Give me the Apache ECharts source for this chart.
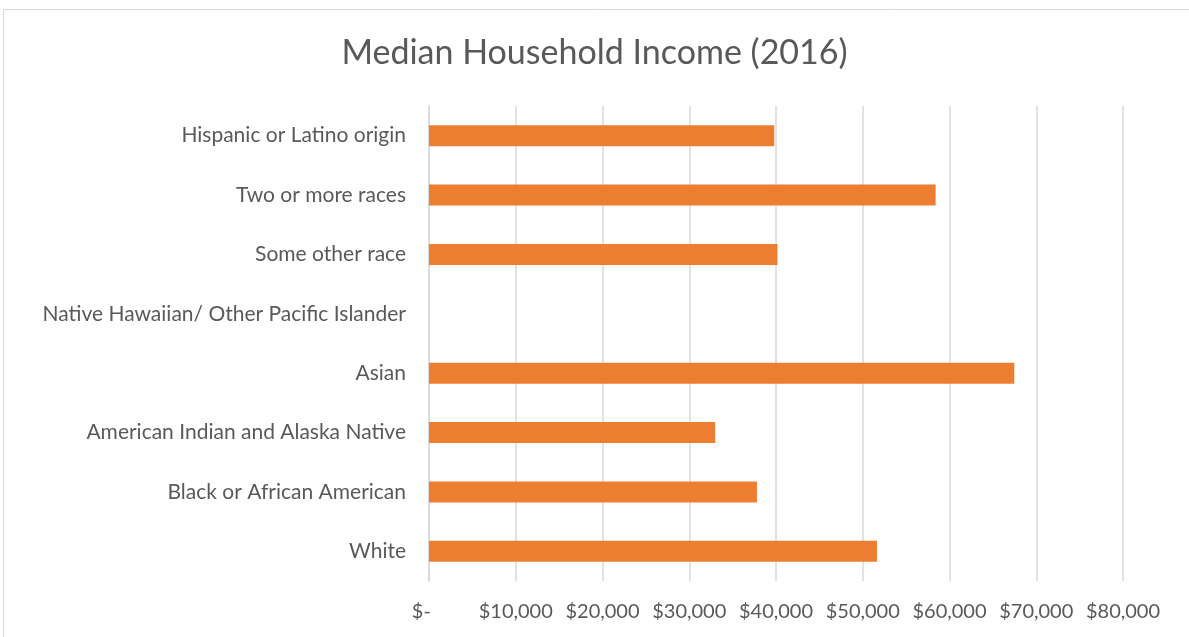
<!DOCTYPE html>
<html>
<head>
<meta charset="utf-8">
<script src="https://cdn.jsdelivr.net/npm/echarts@6/dist/echarts.min.js"></script>
<style>
  html, body { margin: 0; padding: 0; background: #fff; }
  #chart { width: 1189px; height: 637px; }
</style>
</head>
<body>
<div id="chart"></div>
<script>
// categories bottom -> top (as drawn)
const categories = [
  'White',
  'Black or African American',
  'American Indian and Alaska Native',
  'Asian',
  'Native Hawaiian/ Other Pacific Islander',
  'Some other race',
  'Two or more races',
  'Hispanic or Latino origin'
]
// median household income, 2016
const incomes = [51640, 37800, 32990, 67470, null, 40170, 58400, 39800]

const fontFamily = 'Lato, "Open Sans", sans-serif'
const textColor = '#595959'

const chart = echarts.init(document.getElementById('chart'))

// accounting style: zero shows as "$-"
const money = (v) => v === 0 ? '$-   ' : '$' + v.toLocaleString('en-US')

chart.setOption({
  animation: false,
  title: {
    text: 'Median Household Income (2016)',
    left: 'center',
    top: 31,
    textStyle: { fontFamily, fontSize: 34, fontWeight: 'normal', color: textColor }
  },
  graphic: [{
    type: 'rect',
    shape: { x: 3.5, y: 9.5, width: 1200, height: 640 },
    style: { fill: 'none', stroke: '#d9d9d9', lineWidth: 1 },
    silent: true
  }],
  grid: { left: 429, right: 66, top: 106, bottom: 56 },
  xAxis: {
    type: 'value',
    min: 0,
    max: 80000,
    interval: 10000,
    axisLine: { show: false },
    axisTick: { show: false },
    splitLine: { lineStyle: { color: '#d9d9d9', width: 1.5 } },
    axisLabel: {
      formatter: money,
      margin: 21,
      fontFamily,
      fontSize: 20,
      color: textColor
    }
  },
  yAxis: {
    type: 'category',
    data: categories,
    axisLine: { lineStyle: { color: '#d9d9d9', width: 1.5 } },
    axisTick: { show: false },
    axisLabel: {
      margin: 23,
      fontFamily,
      fontSize: 21,
      color: textColor
    }
  },
  series: [{
    type: 'bar',
    data: incomes,
    barWidth: 21,
    itemStyle: { color: '#ED7D31' }
  }]
})
</script>
</body>
</html>
